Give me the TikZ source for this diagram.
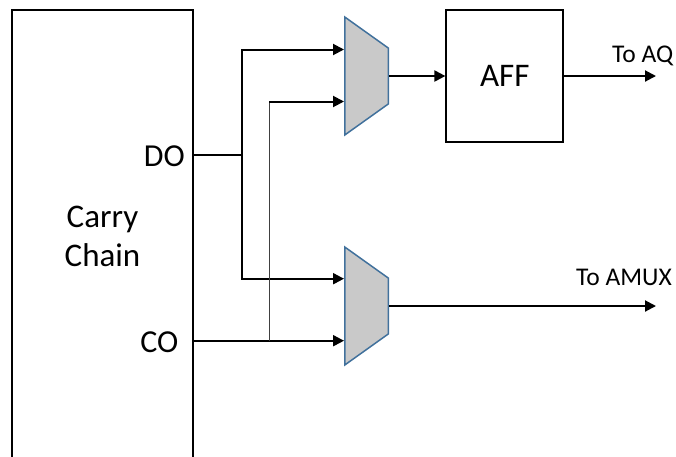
\documentclass[tikz,border=0pt]{standalone}
\usepackage{fontspec}
\setmainfont{Carlito}
\usepackage{xcolor}
\usetikzlibrary{arrows.meta, shapes.geometric}
\definecolor{muxfill}{HTML}{C9C9C9}
\definecolor{muxedge}{HTML}{41719C}
\tikzset{
  block/.style={
    rectangle, draw=black, line width=1.8pt, fill=white,
    inner sep=0pt, align=center,
    font=\fontsize{33}{39}\selectfont
  },
  mux/.style={
    trapezium, shape border rotate=270, draw=muxedge, line width=1.5pt,
    fill=muxfill, trapezium left angle=61, trapezium right angle=61,
    trapezium stretches=true, minimum width=118pt, minimum height=43.5pt,
    inner sep=1pt
  },
  portlabel/.style={anchor=base east, inner sep=0pt, font=\fontsize{32}{39}\selectfont},
  outlabel/.style={anchor=base west, inner sep=0pt, font=\fontsize{25.5}{28}\selectfont},
  wire/.style={line width=2pt, draw=black},
  thinwire/.style={line width=0.8pt, draw=black!75},
  arrow/.style={wire, -{Triangle[length=11pt,width=11pt]}}
}
\begin{document}
\begin{tikzpicture}[x=1pt, y=-1pt]
\useasboundingbox (0,0) rectangle (676,456);

% Carry chain, runs off the bottom edge
\node[block, minimum width=181pt, minimum height=452pt] (chain) at (102.5,236) {Carry\\Chain};
\node[portlabel] (dolabel) at (185,166) {DO};
\node[portlabel] (colabel) at (178.5,352) {CO};

% Two muxes and the flip-flop
\node[mux] (muxa) at (366.5,76) {};
\node[mux] (muxb) at (366.5,306) {};
\node[block, minimum width=117pt, minimum height=131.5pt] (aff) at (504.8,76) {AFF};

% Points on the wires
\coordinate (doout) at (chain.east |- 0,154.5);
\coordinate (coout) at (chain.east |- 0,340.7);
\coordinate (dosplit) at (242,154.5);
\coordinate (cosplit) at (269,340.7);
\coordinate (cotop) at (269,101.5);
\coordinate (muxaone) at (muxa.west |- 0,49.5);
\coordinate (muxatwo) at (muxa.west |- 0,101.5);
\coordinate (muxbone) at (muxb.west |- 0,278.7);
\coordinate (muxbtwo) at (muxb.west |- 0,340.7);
\coordinate (toaq) at (656,76);
\coordinate (toamux) at (656,306);

% Arrows
\draw[wire] (doout) -- (dosplit);
\draw[arrow] (dosplit) |- (muxaone);
\draw[arrow] (dosplit) |- (muxbone);
\draw[arrow] (coout) -- (muxbtwo);
\draw[thinwire] (cosplit) -- (cotop);
\draw[arrow] (cotop) -- (muxatwo);
\draw[arrow] (muxa.east) -- (aff.west);
\draw[arrow] (aff.east) -- (toaq);
\draw[arrow] (muxb.east) -- (toamux);

\node[outlabel] (aqlabel) at (612,62) {To AQ};
\node[outlabel] (amuxlabel) at (576,285) {To AMUX};

\end{tikzpicture}
\end{document}
